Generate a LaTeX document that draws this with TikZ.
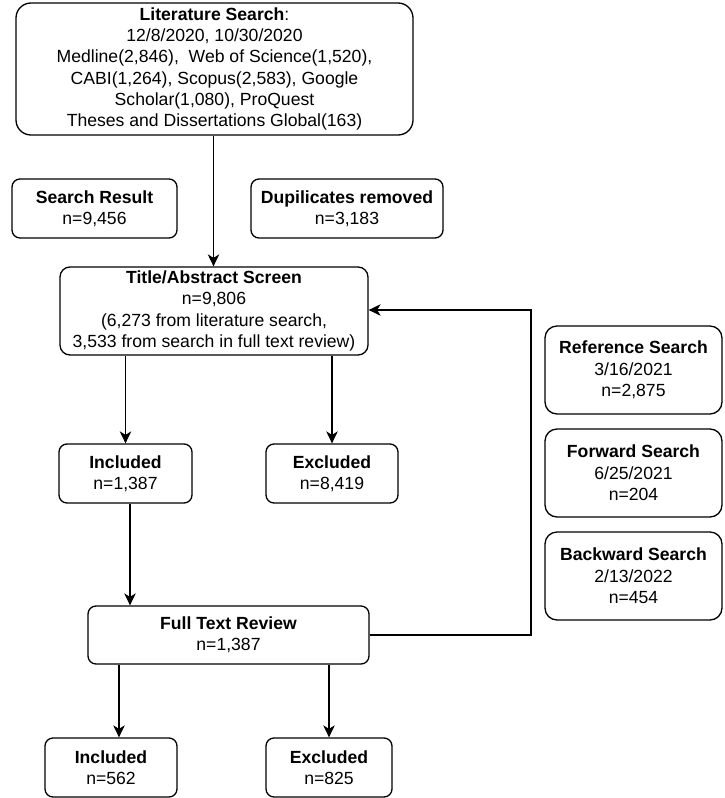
\documentclass[tikz,border=0pt]{standalone}
\usepackage{fontspec}
\setmainfont{Liberation Sans}
\usetikzlibrary{arrows.meta,calc}
\begin{document}
\begin{tikzpicture}[x=1pt,y=-1pt,
  box/.style={draw=black, line width=1.3pt, rounded corners=8pt, align=center,
    inner sep=0pt, font=\fontsize{17.6}{21.3}\selectfont},
  arr/.style={line width=1.3pt, -{Stealth[length=12pt,width=11.5pt,inset=3.5pt]}},
  ln/.style={line width=1.3pt}]
\useasboundingbox (0,0) rectangle (724,798);
\node[box, rounded corners=15pt, minimum width=397pt, minimum height=132pt] (top) at (214.5,69)
  {\textbf{Literature Search}:\\12/8/2020, 10/30/2020\\Medline(2,846),\ \ Web of Science(1,520),\\CABI(1,264), Scopus(2,583), Google\\Scholar(1,080), ProQuest\\Theses and Dissertations Global(163)};
\node[box, minimum width=165pt, minimum height=59pt] (sr) at (94.5,208.5)
  {\textbf{Search Result}\\n=9,456};
\node[box, minimum width=192pt, minimum height=59pt] (dup) at (347,208.5)
  {\textbf{Dupilicates removed}\\n=3,183};
\node[box, rounded corners=10pt, minimum width=308pt, minimum height=88pt] (title) at (214,311)
  {\textbf{Title/Abstract Screen}\\n=9,806\\(6,273 from literature search,\\3,533 from search in full text review)};
\node[box, minimum width=133pt, minimum height=59pt] (inc1) at (125.5,473.5)
  {\textbf{Included}\\n=1,387};
\node[box, minimum width=132pt, minimum height=59pt] (exc1) at (332,473.5)
  {\textbf{Excluded}\\n=8,419};
\node[box, minimum width=281pt, minimum height=58pt] (ftr) at (228.5,635)
  {\textbf{Full Text Review}\\n=1,387};
\node[box, minimum width=132pt, minimum height=59pt] (inc2) at (111,767.5)
  {\textbf{Included}\\n=562};
\node[box, minimum width=126pt, minimum height=59pt] (exc2) at (329,767.5)
  {\textbf{Excluded}\\n=825};
\node[box, rounded corners=12pt, minimum width=177pt, minimum height=88pt] (ref) at (633.5,370)
  {\textbf{Reference Search}\\3/16/2021\\n=2,875};
\node[box, rounded corners=12pt, minimum width=177pt, minimum height=88pt] (fwd) at (633.5,473)
  {\textbf{Forward Search}\\6/25/2021\\n=204};
\node[box, rounded corners=12pt, minimum width=177pt, minimum height=88pt] (bwd) at (633.5,576)
  {\textbf{Backward Search}\\2/13/2022\\n=454};
\draw[arr] ([xshift=-1pt]top.south) -- ([xshift=-1pt]top.south |- title.north);
\draw[arr] (inc1.north |- title.south) -- (inc1.north);
\draw[arr] (exc1.north |- title.south) -- (exc1.north);
\draw[arr] ([xshift=4.5pt]inc1.south) -- ([xshift=4.5pt]inc1.south |- ftr.north);
\draw[arr] ([xshift=8pt]inc2.north |- ftr.south) -- ([xshift=8pt]inc2.north);
\draw[arr] (exc2.north |- ftr.south) -- (exc2.north);
\coordinate (fb) at (531,635);
\draw[arr] (ftr.east) -- (fb) |- ([yshift=1pt]title.east);
\end{tikzpicture}
\end{document}
